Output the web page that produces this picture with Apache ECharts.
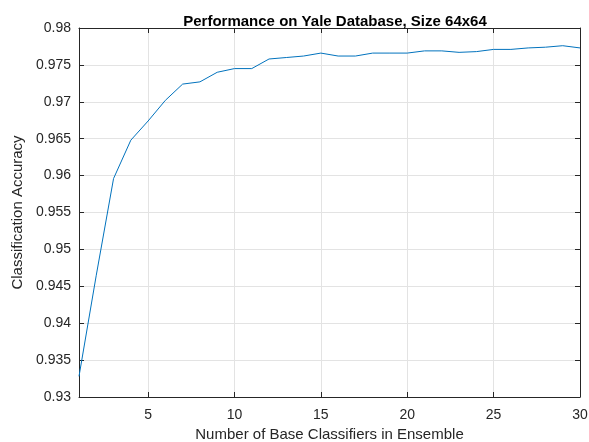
<!DOCTYPE html>
<html>
<head>
<meta charset="utf-8">
<script src="https://cdn.jsdelivr.net/npm/echarts@6/dist/echarts.min.js"></script>
<style>html,body{margin:0;padding:0;background:#fff}#c{width:589px;height:442px}</style>
</head>
<body>
<div id="c"></div>
<script>
const classifiers = [1,2,3,4,5,6,7,8,9,10,11,12,13,14,15,16,17,18,19,20,21,22,23,24,25,26,27,28,29,30];
const accuracy = [0.9328,0.9465,0.9596,0.9648,0.9674,0.9702,0.9724,0.9727,0.9740,0.9745,0.9745,0.9758,0.9760,0.9762,0.9766,0.9762,0.9762,0.9766,0.9766,0.9766,0.9769,0.9769,0.9767,0.9768,0.9771,0.9771,0.9773,0.9774,0.9776,0.9773];
const xTicks = [5,10,15,20,25,30];
const titleText = 'Performance on Yale Database, Size 64x64';
const xName = 'Number of Base Classifiers in Ensemble';
const yName = 'Classification Accuracy';

const font = 'Liberation Sans, Arial, sans-serif';
const axisCol = '#262626';
const gridCol = '#e3e3e3';
const chart = echarts.init(document.getElementById('c'));
const xCommon = {type:'value', min:1, max:30};
chart.setOption({
  animation:false,
  title:{text:titleText, left:330, top:9, textAlign:'center',
    textStyle:{fontFamily:font, fontSize:15, fontWeight:'bold', color:'#000'}},
  grid:{left:79, right:9, top:28, bottom:45, containLabel:false, outerBoundsMode:'none'},
  xAxis:[
    Object.assign({}, xCommon, {
      position:'bottom', name:xName, nameLocation:'middle', nameGap:26,
      nameTextStyle:{fontFamily:font, fontSize:15, color:axisCol},
      axisLine:{show:true, onZero:false, lineStyle:{color:axisCol, width:1}},
      axisTick:{show:true, inside:true, length:5, customValues:xTicks, lineStyle:{color:axisCol}},
      axisLabel:{customValues:xTicks, fontFamily:font, fontSize:14, color:axisCol, margin:11},
      splitLine:{show:true, customValues:xTicks, lineStyle:{color:gridCol, width:1}}
    }),
    Object.assign({}, xCommon, {
      position:'top',
      axisLine:{show:true, onZero:false, lineStyle:{color:axisCol, width:1}},
      axisTick:{show:true, inside:true, length:5, customValues:xTicks, lineStyle:{color:axisCol}},
      axisLabel:{show:false}, splitLine:{show:false}
    })
  ],
  yAxis:[
    {type:'value', min:0.93, max:0.98, interval:0.005, position:'left',
      name:yName, nameLocation:'middle', nameGap:54,
      nameTextStyle:{fontFamily:font, fontSize:15, color:axisCol},
      axisLine:{show:true, onZero:false, lineStyle:{color:axisCol, width:1}},
      axisTick:{show:true, inside:true, length:5, lineStyle:{color:axisCol}},
      axisLabel:{fontFamily:font, fontSize:14, color:axisCol, margin:8,
        formatter:v=>String(parseFloat(v.toFixed(3)))},
      splitLine:{show:true, lineStyle:{color:gridCol, width:1}}},
    {type:'value', min:0.93, max:0.98, interval:0.005, position:'right',
      axisLine:{show:true, onZero:false, lineStyle:{color:axisCol, width:1}},
      axisTick:{show:true, inside:true, length:5, lineStyle:{color:axisCol}},
      axisLabel:{show:false}, splitLine:{show:false}}
  ],
  series:[{type:'line', data:classifiers.map((x,i)=>[x, accuracy[i]]),
    showSymbol:false, symbol:'none', lineStyle:{color:'#0072BD', width:1}}]
});
</script>
</body>
</html>
